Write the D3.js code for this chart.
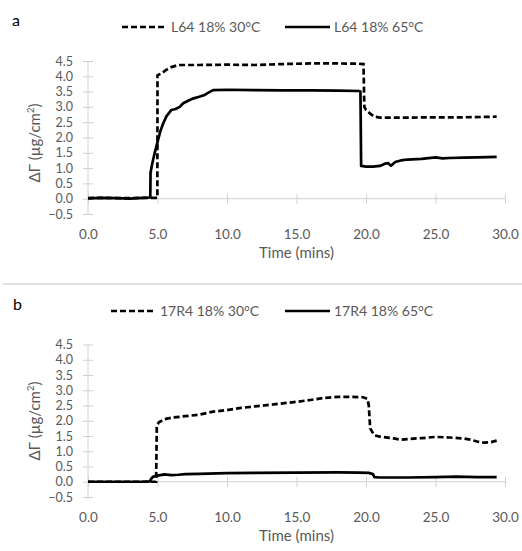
<!DOCTYPE html>
<html>
<head>
	<meta charset="utf-8">
	<title>Adsorption</title>
	<style>
		body { margin: 0; background: #fff; }
		text { font-family: Lato, "Open Sans", sans-serif; }
	</style>
</head>
<body>
	<svg class="svg" width="522" height="551"></svg>
	<script src="https://d3js.org/d3.v7.min.js"></script>
	<script>
		// panel a
		var aDashT = [0, 1, 2, 3, 4, 4.99, 5.0, 5.3, 5.6, 6.0, 6.5, 7, 8, 10, 12, 14, 16, 18, 19.5, 19.82, 19.88, 20.0, 20.3, 20.6, 21, 23, 25, 27, 29.4];
		var aDashV = [0.02, 0.03, 0.02, 0.02, 0.03, 0.03, 4.03, 4.1, 4.2, 4.3, 4.37, 4.37, 4.37, 4.38, 4.37, 4.40, 4.42, 4.42, 4.41, 4.40, 3.0, 2.9, 2.78, 2.68, 2.65, 2.65, 2.66, 2.66, 2.68];
		var aSolidT = [0, 1, 2, 3, 4, 4.48, 4.5, 4.6, 4.8, 5.0, 5.2, 5.4, 5.65, 6.0, 6.3, 6.6, 6.85, 7.2, 7.6, 8.0, 8.4, 8.6, 9.0, 10, 12, 14, 16, 18, 19.5, 19.6, 19.65, 20, 20.5, 21, 21.4, 21.6, 21.8, 22.1, 22.5, 23, 24, 25, 25.5, 26, 27, 28, 29.4];
		var aSolidV = [0.01, 0.03, 0.02, 0.0, 0.03, 0.04, 0.85, 1.1, 1.5, 1.85, 2.2, 2.45, 2.7, 2.9, 2.93, 3.0, 3.12, 3.2, 3.28, 3.33, 3.39, 3.45, 3.55, 3.56, 3.55, 3.54, 3.54, 3.53, 3.52, 3.50, 1.07, 1.05, 1.05, 1.07, 1.15, 1.16, 1.08, 1.2, 1.25, 1.28, 1.3, 1.35, 1.32, 1.33, 1.34, 1.35, 1.37];

		// panel b
		var bDashT = [0, 2, 4, 4.9, 4.95, 5.1, 5.5, 6, 7, 8, 9, 10, 11, 12, 13, 14, 15, 16, 17, 18, 19, 19.8, 20.1, 20.2, 20.3, 20.6, 21, 22, 22.5, 23, 24, 25, 26, 27, 27.5, 28, 28.5, 29, 29.4];
		var bDashV = [0, 0, 0, 0, 1.85, 1.95, 2.05, 2.1, 2.15, 2.2, 2.3, 2.35, 2.42, 2.47, 2.52, 2.57, 2.62, 2.68, 2.75, 2.78, 2.78, 2.77, 2.72, 2.5, 1.75, 1.52, 1.48, 1.42, 1.38, 1.4, 1.43, 1.47, 1.45, 1.42, 1.38, 1.32, 1.28, 1.3, 1.35];
		var bSolidT = [0, 2, 4, 4.45, 4.55, 4.7, 5.0, 5.5, 6, 6.5, 7, 8, 10, 12, 15, 18, 19.5, 20.2, 20.5, 20.6, 21, 23, 25, 26.5, 28, 29.4];
		var bSolidV = [0, 0, 0, 0.01, 0.1, 0.17, 0.2, 0.24, 0.22, 0.23, 0.25, 0.26, 0.28, 0.29, 0.3, 0.31, 0.3, 0.29, 0.25, 0.15, 0.14, 0.14, 0.15, 0.17, 0.15, 0.15];

		var xTicks = [0, 5, 10, 15, 20, 25, 30];
		var yTicks = [-0.5, 0, 0.5, 1, 1.5, 2, 2.5, 3, 3.5, 4, 4.5];

		var svg = d3.select("svg");
		var textCol = "#595959";
		var axisCol = "#d0d0d0";

		function zip(t, v) {
			return t.map(function(d, i) { return [d, v[i]]; });
		}

		function panel(opt) {
			var x = d3.scaleLinear().domain([0, 30]).range([88, 505]);
			var y = d3.scaleLinear().domain([-0.5, 4.5]).range([opt.bottom, opt.top]);
			var g = svg.append("g");

			// panel letter
			g.append("text")
				.attr("x", opt.letterX).attr("y", opt.letterY)
				.attr("font-size", 16).attr("fill", "#000")
				.text(opt.letter);

			// legend
			var lg = g.append("g").attr("transform", "translate(0," + opt.legendY + ")");
			lg.append("line").attr("x1", opt.leg1).attr("x2", opt.leg1 + 45).attr("y1", 0).attr("y2", 0)
				.attr("stroke", "#000").attr("stroke-width", 2.5).attr("stroke-dasharray", "6,3");
			lg.append("text").attr("x", opt.leg1 + 49).attr("y", 5).attr("font-size", 14)
				.attr("fill", textCol).text(opt.names[0]);
			lg.append("line").attr("x1", 285).attr("x2", 330).attr("y1", 0).attr("y2", 0)
				.attr("stroke", "#000").attr("stroke-width", 2.5);
			lg.append("text").attr("x", 334).attr("y", 5).attr("font-size", 14)
				.attr("fill", textCol).text(opt.names[1]);

			// y axis
			var ya = g.append("g")
				.attr("transform", "translate(" + x(0) + ",0)")
				.call(d3.axisLeft(y).tickValues(yTicks).tickSize(5).tickPadding(10).tickFormat(d3.format(".1f")));
			ya.select(".domain").attr("stroke", axisCol).attr("d", "M0," + y(-0.5) + "V" + y(4.5));
			ya.selectAll(".tick line").attr("stroke", axisCol).attr("x1", -5).attr("x2", 5);
			ya.selectAll(".tick text").attr("fill", textCol).attr("font-size", 12.5)
				.attr("font-family", "Lato, sans-serif");

			// x axis at zero
			var xa = g.append("g")
				.attr("transform", "translate(0," + y(0) + ")")
				.call(d3.axisBottom(x).tickValues(xTicks).tickSize(5).tickFormat(d3.format(".1f")));
			xa.select(".domain").attr("stroke", axisCol).attr("d", "M" + x(0) + ",0H" + x(30));
			xa.selectAll(".tick line").attr("stroke", axisCol).attr("y1", -5).attr("y2", 5);
			xa.selectAll(".tick text").attr("fill", textCol).attr("font-size", 13.5)
				.attr("font-family", "Lato, sans-serif")
				.attr("y", opt.bottom - y(0) + 15);

			// axis titles
			g.append("text")
				.attr("x", (x(0) + x(30)) / 2).attr("y", opt.bottom + 44)
				.attr("text-anchor", "middle").attr("font-size", 15).attr("fill", textCol)
				.text("Time (mins)");
			var yt = g.append("text")
				.attr("transform", "translate(40," + opt.yTitleY + ") rotate(-90)")
				.attr("text-anchor", "middle").attr("font-size", 15).attr("fill", textCol);
			yt.append("tspan").text("ΔΓ (µg/cm");
			yt.append("tspan").attr("font-size", 9.5).attr("dy", -6).text("2");
			yt.append("tspan").attr("dy", 6).text(")");

			var line = d3.line().x(function(d) { return x(d[0]); }).y(function(d) { return y(d[1]); });

			g.append("path").datum(opt.dash)
				.attr("fill", "none").attr("stroke", "#000").attr("stroke-width", 2.7)
				.attr("stroke-dasharray", "6,3").attr("d", line);
			g.append("path").datum(opt.solid)
				.attr("fill", "none").attr("stroke", "#000").attr("stroke-width", 2.7)
				.attr("stroke-linejoin", "round").attr("d", line);
		}

		panel({
			top: 61, bottom: 214, letter: "a", letterX: 12, letterY: 26,
			legendY: 27, leg1: 122, yTitleY: 143,
			names: ["L64 18% 30°C", "L64 18% 65°C"],
			dash: zip(aDashT, aDashV), solid: zip(aSolidT, aSolidV)
		});

		// separator
		svg.append("line").attr("x1", 3).attr("x2", 522).attr("y1", 284).attr("y2", 284)
			.attr("stroke", "#e0e0e0").attr("stroke-width", 2);

		panel({
			top: 344.5, bottom: 497, letter: "b", letterX: 13, letterY: 310,
			legendY: 311, leg1: 111, yTitleY: 421,
			names: ["17R4 18% 30°C", "17R4 18% 65°C"],
			dash: zip(bDashT, bDashV), solid: zip(bSolidT, bSolidV)
		});
	</script>
</body>
</html>
